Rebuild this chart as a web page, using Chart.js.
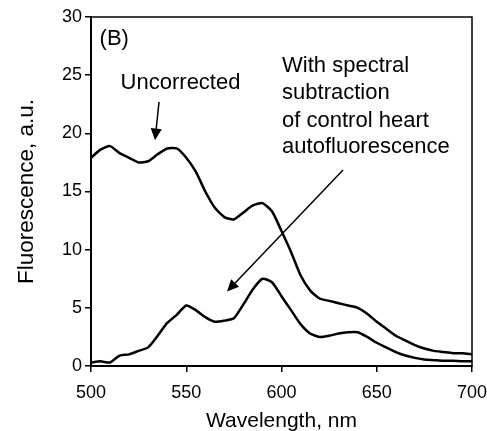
<!DOCTYPE html>
<html>
<head>
<meta charset="utf-8">
<script src="https://cdn.jsdelivr.net/npm/chart.js@4.4.1/dist/chart.umd.min.js"></script>
<style>
  html, body { margin: 0; padding: 0; background: #fff; }
  #wrap { width: 487px; height: 431px; }
</style>
</head>
<body>
<div id="wrap"><canvas id="grafico"></canvas></div>
<script>
// wavelength, nm
const wavelengths = [500, 505, 510, 515, 520, 525, 530, 535, 540, 545, 550, 555, 560, 565, 570, 575, 580, 585, 590, 595,
  600, 605, 610, 615, 620, 625, 630, 635, 640, 645, 650, 655, 660, 665, 670, 675, 680, 685, 690, 695, 700];

const uncorrected = [17.9, 18.6, 18.9, 18.3, 17.9, 17.5, 17.6, 18.2, 18.7, 18.7, 17.9, 16.7, 15.0, 13.6, 12.8, 12.6, 13.2, 13.8, 14.0, 13.3,
  11.6, 9.8, 7.8, 6.5, 5.8, 5.6, 5.4, 5.2, 5.0, 4.5, 3.8, 3.2, 2.6, 2.2, 1.8, 1.5, 1.3, 1.2, 1.1, 1.1, 1.0];

const subtracted = [0.3, 0.4, 0.3, 0.9, 1.0, 1.3, 1.6, 2.6, 3.7, 4.4, 5.2, 4.8, 4.2, 3.8, 3.9, 4.1, 5.3, 6.6, 7.5, 7.2,
  6.0, 4.8, 3.6, 2.8, 2.5, 2.6, 2.8, 2.9, 2.9, 2.5, 2.0, 1.6, 1.2, 0.9, 0.7, 0.55, 0.5, 0.45, 0.45, 0.4, 0.4];

const xTicks = [500, 550, 600, 650, 700];
const yTicks = [0, 5, 10, 15, 20, 25, 30];

// texts and arrows in data units
const labels = [
  { text: '(B)', x: 504.5, y: 28.1, align: 'left' },
  { text: 'Uncorrected', x: 547, y: 24.3, align: 'center' },
  { text: 'With spectral', x: 600.3, y: 25.8, align: 'left' },
  { text: 'subtraction', x: 600.3, y: 23.5, align: 'left' },
  { text: 'of control heart', x: 600.3, y: 21.1, align: 'left' },
  { text: 'autofluorescence', x: 600.3, y: 18.8, align: 'left' }
];
const arrows = [
  { x0: 535.7, y0: 22.7, x1: 533.6, y1: 19.4 },
  { x0: 632.3, y0: 16.85, x1: 571.4, y1: 6.4 }
];

const fonte = '"Liberation Sans", Arial, sans-serif';

const anotacoes = {
  id: 'anotacoes',
  afterDraw(chart) {
    const c = chart.ctx;
    const xs = chart.scales.x, ys = chart.scales.y;
    const a = chart.chartArea;
    c.save();
    c.strokeStyle = '#000';
    c.lineWidth = 1.5;
    c.strokeRect(a.left, a.top, a.right - a.left, a.bottom - a.top);

    c.fillStyle = '#000';
    c.font = '22px ' + fonte;
    c.textBaseline = 'middle';
    labels.forEach(l => {
      c.textAlign = l.align;
      c.fillText(l.text, xs.getPixelForValue(l.x), ys.getPixelForValue(l.y));
    });

    arrows.forEach(ar => {
      const px0 = xs.getPixelForValue(ar.x0), py0 = ys.getPixelForValue(ar.y0);
      const px1 = xs.getPixelForValue(ar.x1), py1 = ys.getPixelForValue(ar.y1);
      const ang = Math.atan2(py1 - py0, px1 - px0);
      const len = 13, half = 0.44;
      c.lineWidth = 1.5;
      c.beginPath();
      c.moveTo(px0, py0);
      c.lineTo(px1 - Math.cos(ang) * len * 0.8, py1 - Math.sin(ang) * len * 0.8);
      c.stroke();
      c.beginPath();
      c.moveTo(px1, py1);
      c.lineTo(px1 - len * Math.cos(ang - half), py1 - len * Math.sin(ang - half));
      c.lineTo(px1 - len * Math.cos(ang + half), py1 - len * Math.sin(ang + half));
      c.closePath();
      c.fill();
    });
    c.restore();
  }
};

const ctx = document.getElementById('grafico');

new Chart(ctx, {
  type: 'line',
  data: {
    datasets: [
      {
        label: 'Uncorrected',
        data: wavelengths.map((w, i) => ({ x: w, y: uncorrected[i] })),
        borderColor: '#000',
        borderWidth: 2.5,
        pointRadius: 0,
        tension: 0.2
      },
      {
        label: 'With spectral subtraction',
        data: wavelengths.map((w, i) => ({ x: w, y: subtracted[i] })),
        borderColor: '#000',
        borderWidth: 2.5,
        pointRadius: 0,
        tension: 0.2
      }
    ]
  },
  options: {
    responsive: true,
    maintainAspectRatio: false,
    animation: false,
    layout: { padding: { top: 17, right: 15, left: 0, bottom: 0 } },
    plugins: { legend: { display: false }, tooltip: { enabled: false } },
    scales: {
      x: {
        type: 'linear',
        min: 500,
        max: 700,
        afterBuildTicks: s => { s.ticks = xTicks.map(v => ({ value: v })); },
        afterFit: s => { s.height = 65; s.paddingLeft = 0; s.paddingRight = 0; },
        grid: { drawOnChartArea: false, drawTicks: true, tickLength: 6, color: '#000', lineWidth: 1.5 },
        border: { display: true, color: '#000', width: 2 },
        ticks: { color: '#000', font: { family: fonte, size: 18 }, padding: 10, maxRotation: 0 },
        title: { display: true, text: 'Wavelength, nm', color: '#000', font: { family: fonte, size: 21 }, padding: { top: 0, bottom: -3 } }
      },
      y: {
        min: 0,
        max: 30,
        afterBuildTicks: s => { s.ticks = yTicks.map(v => ({ value: v })); },
        afterFit: s => { s.width = 91; s.paddingTop = 0; s.paddingBottom = 0; },
        grid: { drawOnChartArea: false, drawTicks: true, tickLength: 6, color: '#000', lineWidth: 1.5 },
        border: { display: true, color: '#000', width: 2 },
        ticks: { color: '#000', font: { family: fonte, size: 18 }, padding: 3 },
        title: { display: true, text: 'Fluorescence, a.u.', color: '#000', font: { family: fonte, size: 22.5 }, padding: { top: 13, bottom: 0 } }
      }
    }
  },
  plugins: [anotacoes]
});
</script>
</body>
</html>
